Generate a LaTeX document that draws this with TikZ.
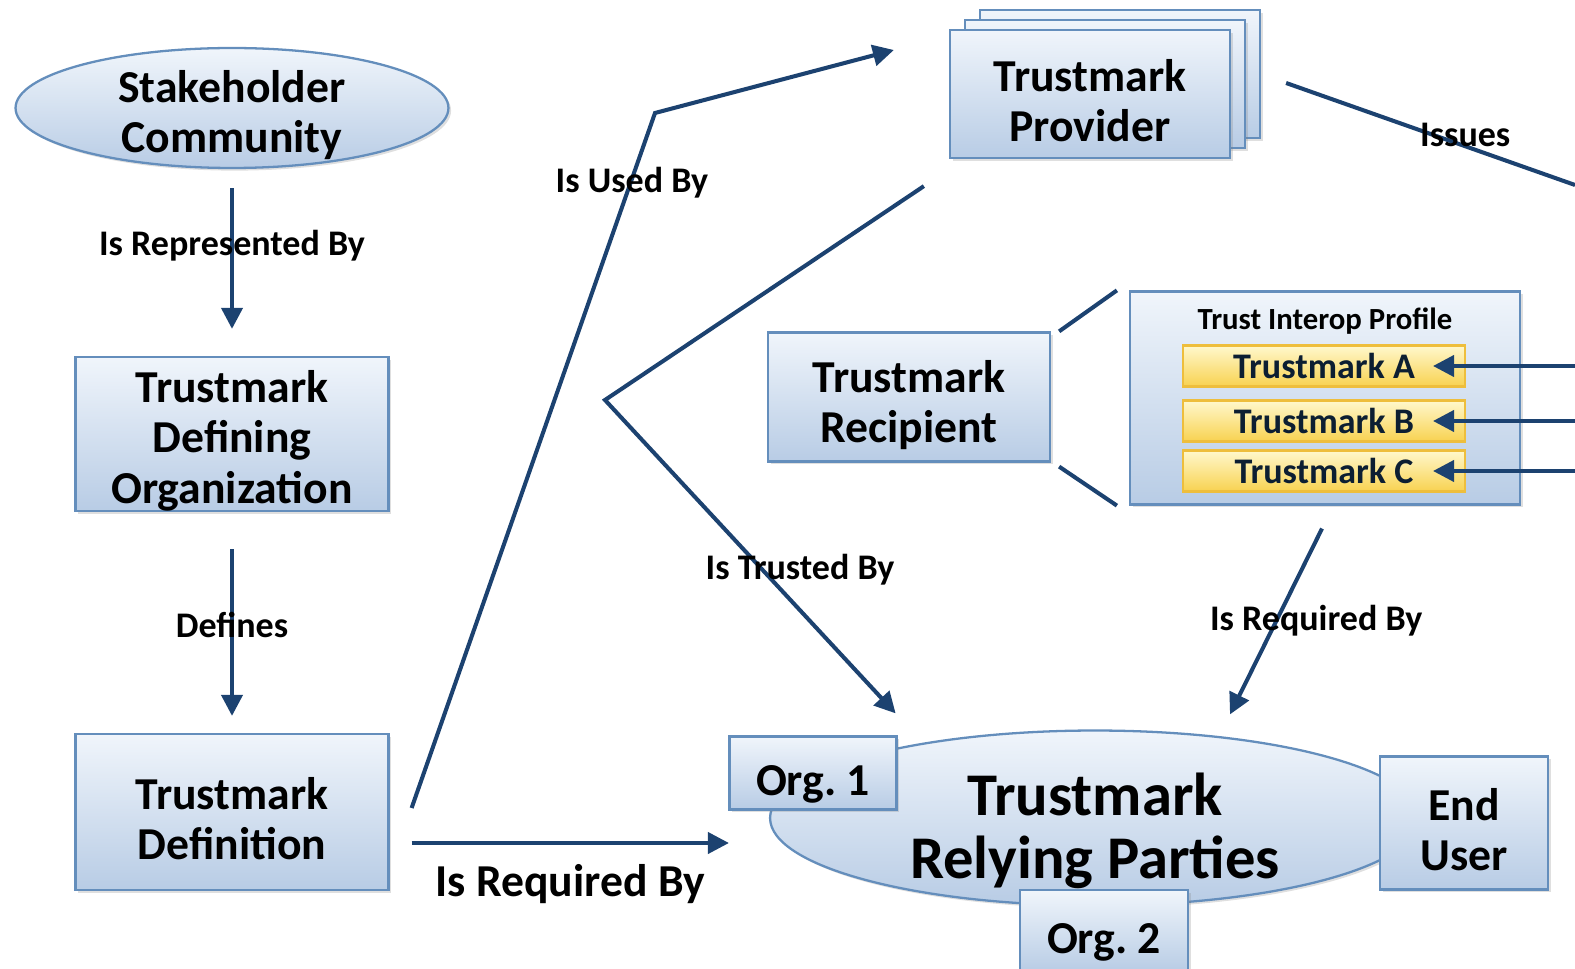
\documentclass[tikz,border=0pt]{standalone}
\usepackage{fontspec}
\setmainfont{Carlito}
\usetikzlibrary{positioning,calc,arrows.meta,shapes.geometric,shadows}

\definecolor{linkblue}{RGB}{28,66,112}
\definecolor{boxedge}{RGB}{100,142,188}
\definecolor{boxtop}{RGB}{240,245,251}
\definecolor{boxbot}{RGB}{184,204,229}
\definecolor{markedge}{RGB}{238,190,60}
\definecolor{marktop}{RGB}{255,248,205}
\definecolor{markbot}{RGB}{248,210,80}

% pushes the first line of a box text down a little
\newcommand{\firstline}[1]{\rule{0pt}{#1}}

\tikzset{
  bluebox/.style={shape=rectangle, draw=boxedge, line width=1.3pt,
    top color=boxtop, bottom color=boxbot, align=center, inner sep=0pt,
    drop shadow={opacity=0.25, shadow xshift=1.5pt, shadow yshift=-1.5pt}},
  blueoval/.style={bluebox, shape=ellipse, inner ysep=-9pt},
  markbox/.style={shape=rectangle, draw=markedge, line width=1.2pt,
    top color=marktop, bottom color=markbot, inner sep=0pt,
    minimum width=5.64cm, minimum height=0.82cm,
    font=\fontsize{20.5}{24}\selectfont\bfseries\color{linkblue!45!black}},
  conn/.style={draw=linkblue, line width=2.3pt, -{Triangle[length=0.42cm,width=0.42cm]}},
  plain/.style={draw=linkblue, line width=2.3pt},
  bigfont/.style={font=\fontsize{26}{28.5}\selectfont\bfseries},
  hugefont/.style={font=\fontsize{34.5}{36}\selectfont\bfseries},
  lbl/.style={font=\fontsize{20.5}{24}\selectfont\bfseries, yshift=-0.08cm},
  biglbl/.style={font=\fontsize{26}{30}\selectfont\bfseries}
}

\begin{document}
\begin{tikzpicture}[x=0.02cm, y=-0.02cm]
    \useasboundingbox (0,0) rectangle (1575,969);
    % left column
    \node[blueoval, bigfont, minimum width=8.66cm, minimum height=2.4cm] (stake) at (232,108) {\firstline{26pt}Stakeholder\\Community};
    \node[bluebox, bigfont, minimum width=6.26cm, minimum height=3.08cm] (tdo) at (232,434) {\firstline{26pt}Trustmark\\Defining\\Organization};
    \node[bluebox, bigfont, minimum width=6.26cm, minimum height=3.12cm] (tdef) at (232,812) {\firstline{26pt}Trustmark\\Definition};
    %
    % provider stack
    \node[bluebox, minimum width=5.6cm, minimum height=2.56cm] (prov3) at (1120,74) {};
    \node[bluebox, minimum width=5.6cm, minimum height=2.56cm] (prov2) at (1105,84) {};
    \node[bluebox, bigfont, minimum width=5.6cm, minimum height=2.56cm] (prov) at (1090,94) {\firstline{26pt}Trustmark\\Provider};
    %
    % recipient and profile
    \node[bluebox, bigfont, minimum width=5.64cm, minimum height=2.58cm] (recip) at (909,397) {\firstline{27pt}Trustmark\\Recipient};
    \node[bluebox, minimum width=7.8cm, minimum height=4.26cm] (tip) at (1325,398) {};
    \node[font=\fontsize{17.5}{20}\selectfont\bfseries] (tiptitle) at (1325,321) {Trust Interop Profile};
    \node[markbox] (tmA) at (1324,366) {Trustmark A};
    \node[markbox] (tmB) at (1324,421) {Trustmark B};
    \node[markbox] (tmC) at (1324,471) {Trustmark C};
    %
    % relying parties
    \node[blueoval, hugefont, minimum width=13cm, minimum height=3.5cm] (rely) at (1095,818) {\firstline{39pt}Trustmark\\Relying Parties};
    \node[bluebox, bigfont, minimum width=3.34cm, minimum height=1.46cm] (orgone) at (813,773) {\firstline{30pt}Org.\ 1};
    \node[bluebox, bigfont, minimum width=3.36cm, minimum height=1.64cm] (orgtwo) at (1104,931) {\firstline{30pt}Org.\ 2};
    \node[bluebox, bigfont, minimum width=3.36cm, minimum height=2.66cm] (enduser) at (1464,823) {\firstline{26pt}End\\User};
    %
    \coordinate (usedBend) at (655,113);
    \coordinate (trustBend) at (605,400);
    \coordinate (issueEnd) at (1575,185);
    \coordinate (feedA) at (1575,366);
    \coordinate (feedB) at (1575,421);
    \coordinate (feedC) at (1575,471);
    %
    \draw[conn] ($(stake.south)+(0,19)$) -- node[lbl, pos=0.38]{Is Represented By} ($(tdo.north)+(0,-27)$);
    \draw[conn] ($(tdo.south)+(0,37)$) -- node[lbl, pos=0.43]{Defines} ($(tdef.north)+(0,-17)$);
    \draw[conn] ($(tdef.east)+(22,31)$) -- node[biglbl, below, yshift=-0.28cm]{Is Required By} ($(rely.west)+(-40,25)$);
    \draw[conn] ($(tdef.east)+(22,-4)$) -- node[lbl, pos=0.905]{Is Used By} (usedBend) -- ($(prov.west)+(-55,-44)$);
    \draw[conn] ($(prov.south west)+(-25,27)$) -- (trustBend) -- node[lbl, pos=0.53, xshift=0.82cm]{Is Trusted By} ($(orgone.north east)+(-2,-22)$);
    \draw[plain] ($(prov.east)+(55,-11)$) -- node[lbl, pos=0.62, yshift=0.3cm]{Issues} (issueEnd);
    \draw[conn] (feedA) -- ($(tmA.east)+(-33,0)$);
    \draw[conn] (feedB) -- ($(tmB.east)+(-33,0)$);
    \draw[conn] (feedC) -- ($(tmC.east)+(-33,0)$);
    \draw[plain] ($(recip.north east)+(8,0)$) -- ($(tip.north west)+(-12,0)$);
    \draw[plain] ($(recip.south east)+(8,4)$) -- ($(tip.south west)+(-12,0)$);
    \draw[conn] ($(tip.south)+(-3,23)$) -- node[lbl, pos=0.476, xshift=0.76cm]{Is Required By} ($(rely.north)+(135,-15)$);
\end{tikzpicture}
\end{document}
